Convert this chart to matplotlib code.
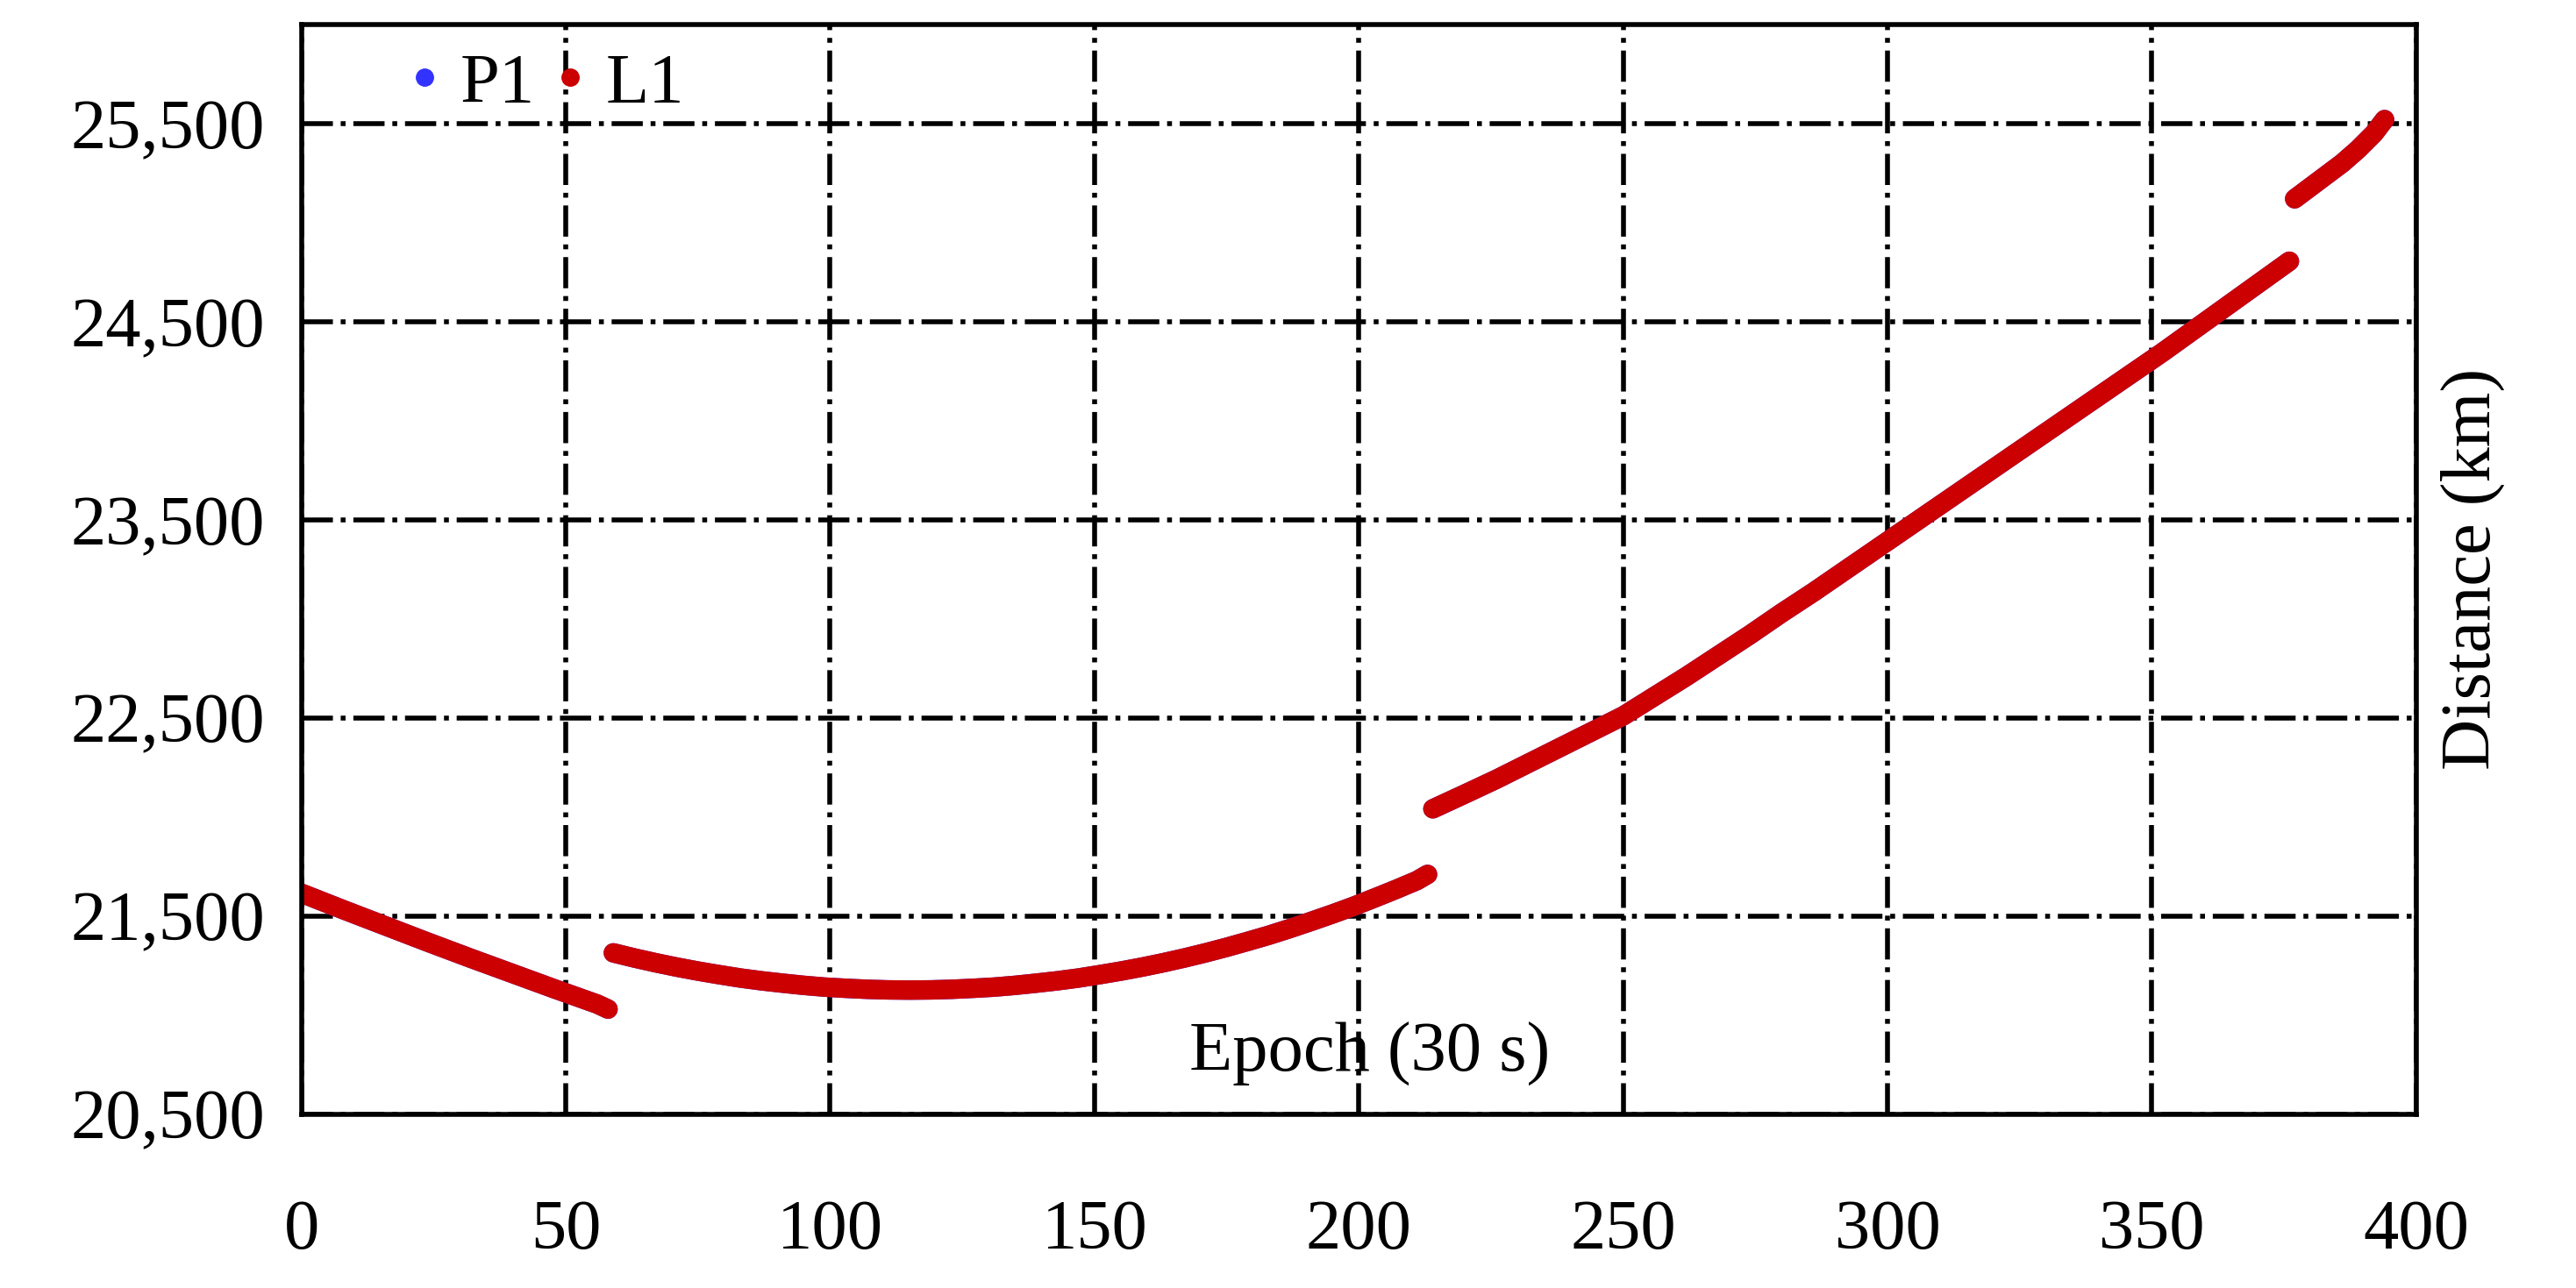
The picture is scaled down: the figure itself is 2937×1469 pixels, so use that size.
import matplotlib.pyplot as plt
from matplotlib.ticker import FuncFormatter
from matplotlib.lines import Line2D

plt.rcParams['font.family'] = ['Liberation Serif', 'DejaVu Serif']

# epoch / distance (km), one list per arc (gaps between arcs)
seg1_x = [0, 4, 8, 12, 16, 20, 24, 28, 32, 36, 40, 44, 48, 52, 56, 58]
seg1_y = [21615, 21573, 21531, 21490, 21449, 21408, 21367, 21327, 21287,
          21248, 21209, 21170, 21131, 21093, 21055, 21030]
seg2_x = [59, 63, 67, 71, 75, 79, 83, 87, 91, 95, 99, 103, 107, 111, 115,
          119, 123, 127, 131, 135, 139, 143, 147, 151, 155, 159, 163, 167,
          171, 175, 179, 183, 187, 191, 195, 199, 203, 207, 211, 213]
seg2_y = [21314, 21288, 21264, 21242, 21222, 21204, 21187, 21173, 21161,
          21150, 21141, 21135, 21130, 21127, 21126, 21127, 21130, 21135,
          21141, 21150, 21161, 21173, 21187, 21204, 21222, 21242, 21264,
          21288, 21314, 21342, 21372, 21403, 21437, 21473, 21510, 21549,
          21591, 21634, 21679, 21710]
seg3_x = [214, 220, 226, 232, 238, 244, 250, 256, 262, 268, 274, 280, 286,
          292, 298, 304, 310, 316, 322, 328, 334, 340, 346, 352, 358, 364,
          370, 376]
seg3_y = [22041, 22115, 22190, 22270, 22350, 22430, 22510, 22610, 22710,
          22815, 22920, 23030, 23135, 23245, 23355, 23465, 23575, 23685,
          23795, 23905, 24015, 24125, 24235, 24345, 24460, 24575, 24690, 24805]
seg4_x = [377, 380, 383, 386, 389, 392, 394]
seg4_y = [25120, 25180, 25240, 25300, 25370, 25450, 25520]

segments = [(seg1_x, seg1_y), (seg2_x, seg2_y), (seg3_x, seg3_y), (seg4_x, seg4_y)]

fig = plt.figure(figsize=(29.37, 14.69), dpi=100)
ax = fig.add_axes([0.117, 0.135, 0.821, 0.846])

# P1 sits under L1 (same ranges), so it is hidden as in the original
for sx, sy in segments:
    ax.plot(sx, sy, color='#3333ff', lw=16, solid_capstyle='round')
for sx, sy in segments:
    ax.plot(sx, sy, color='#cc0000', lw=16, solid_capstyle='round')

ax.set_xlim(0, 400)
ax.set_ylim(20500, 26000)
ax.set_xticks(range(0, 401, 50))
ax.set_yticks(range(20500, 25501, 1000))
ax.yaxis.set_major_formatter(FuncFormatter(lambda v, p: f'{int(v):,}'))
ax.tick_params(labelsize=58, length=0, pad=30)
ax.tick_params(axis='x', pad=70)
ax.grid(True, color='black', linestyle='-.', linewidth=4)
for s in ax.spines.values():
    s.set_linewidth(4)

ax.yaxis.set_label_position('right')
ax.set_ylabel('Distance (km)', fontsize=58, labelpad=20)
ax.text(202, 20640, 'Epoch (30 s)', fontsize=58, ha='center', va='bottom')

hs = [Line2D([], [], ls='none', marker='o', ms=14, color='#3333ff'),
      Line2D([], [], ls='none', marker='o', ms=14, color='#cc0000')]
ax.legend(hs, ['P1', 'L1'], loc='upper left', ncol=2, frameon=False,
          fontsize=58, handlelength=0.6, handletextpad=0.2, columnspacing=0.2,
          bbox_to_anchor=(0.035, 1.0), borderaxespad=0)

fig.savefig('out.png')
